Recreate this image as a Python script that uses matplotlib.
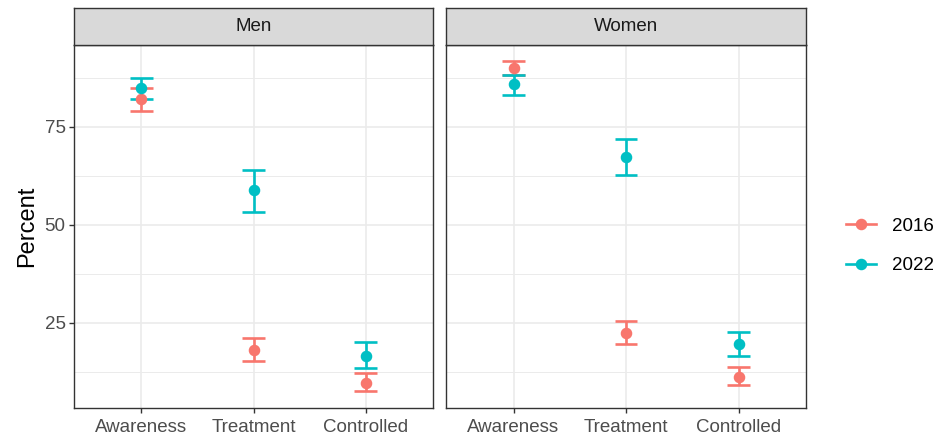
import numpy as np
import matplotlib
matplotlib.use("Agg")
import matplotlib.pyplot as plt
from matplotlib.lines import Line2D

plt.rcParams['font.family'] = ['Liberation Sans', 'DejaVu Sans']

# Estimates with 95% CI, by sex and survey year
stages = ['Awareness', 'Treatment', 'Controlled']
panels = ['Men', 'Women']
years = ['2016', '2022']

men_2016 = [82.1, 18.1, 9.6]
men_2016_lo = [79.1, 15.4, 7.7]
men_2016_hi = [84.9, 21.1, 12.3]
men_2022 = [85.0, 58.8, 16.6]
men_2022_lo = [82.1, 53.3, 13.4]
men_2022_hi = [87.6, 64.0, 20.2]

women_2016 = [90.0, 22.4, 11.3]
women_2016_lo = [88.2, 19.6, 9.2]
women_2016_hi = [91.7, 25.5, 13.7]
women_2022 = [86.0, 67.4, 19.6]
women_2022_lo = [83.2, 62.8, 16.6]
women_2022_hi = [88.2, 71.9, 22.8]

colors = {'2016': '#F8766D', '2022': '#00BFC4'}
data = {
    'Men': {'2016': (men_2016, men_2016_lo, men_2016_hi),
            '2022': (men_2022, men_2022_lo, men_2022_hi)},
    'Women': {'2016': (women_2016, women_2016_lo, women_2016_hi),
              '2022': (women_2022, women_2022_lo, women_2022_hi)},
}

fig = plt.figure(figsize=(9.4, 4.4), dpi=100)
W, H = 940, 440
panel_px = [(74, 433), (446, 806)]
top_px, bot_px, strip_top = 45, 408, 8

x = np.arange(len(stages))
for i, name in enumerate(panels):
    l, r = panel_px[i]
    ax = fig.add_axes([l / W, 1 - bot_px / H, (r - l) / W, (bot_px - top_px) / H])
    for yr in years:
        est, lo, hi = data[name][yr]
        c = colors[yr]
        ax.vlines(x, lo, hi, color=c, lw=1.9, zorder=3)
        ax.hlines(lo, x - 0.1, x + 0.1, color=c, lw=1.9, zorder=3)
        ax.hlines(hi, x - 0.1, x + 0.1, color=c, lw=1.9, zorder=3)
        ax.plot(x, est, 'o', color=c, ms=7.3, zorder=4)

    ax.set_xlim(-0.6, 2.6)
    ax.set_ylim(3.3, 95.9)
    ax.set_xticks(x)
    ax.set_xticklabels(stages)
    ax.set_yticks([25, 50, 75])
    ax.set_yticks([12.5, 37.5, 62.5, 87.5], minor=True)
    ax.grid(which='major', color='#EBEBEB', lw=1.2)
    ax.grid(which='minor', axis='y', color='#EBEBEB', lw=0.7)
    ax.set_axisbelow(True)
    ax.tick_params(which='major', length=3.5, width=1, color='#333333',
                   labelsize=13.5, labelcolor='#4D4D4D', pad=2.5)
    ax.tick_params(axis='x', which='major', pad=4.5)
    ax.tick_params(which='minor', length=0)
    for s in ax.spines.values():
        s.set_color('#333333')
        s.set_linewidth(1)
    if i == 0:
        ax.set_ylabel('Percent', fontsize=17, color='black', labelpad=5)
    else:
        ax.set_yticklabels([])
        ax.tick_params(axis='y', which='major', length=0)

    # facet strip
    sax = fig.add_axes([l / W, 1 - top_px / H, (r - l) / W, (top_px - strip_top) / H])
    sax.set_facecolor('#D9D9D9')
    sax.set_xticks([])
    sax.set_yticks([])
    for s in sax.spines.values():
        s.set_color('#333333')
        s.set_linewidth(1)
    sax.text(0.5, 0.5, name, ha='center', va='center', fontsize=13.5,
             color='#1A1A1A', transform=sax.transAxes)

handles = [Line2D([0], [0], color=colors[yr], lw=1.9, marker='o', ms=7.3)
           for yr in years]
fig.legend(handles, years, loc='center left', bbox_to_anchor=(846 / W, 1 - 246 / H),
           frameon=False, fontsize=13.5, handlelength=1.6, labelspacing=1.2,
           handletextpad=0.85, borderpad=0, borderaxespad=0)

fig.savefig('out.png', dpi=100)
